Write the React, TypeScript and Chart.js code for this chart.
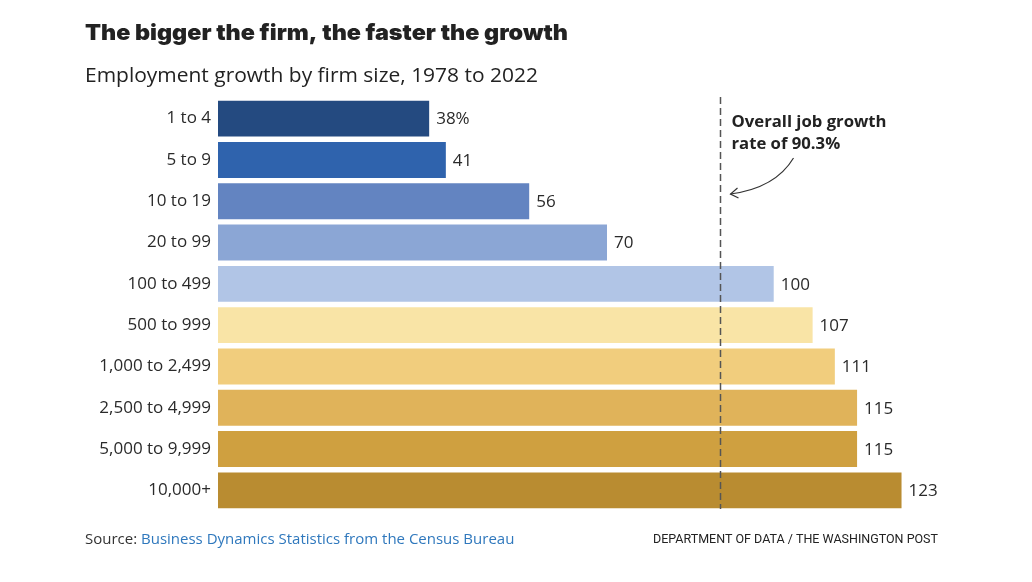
import React, { useEffect, useRef } from "react";
import { Chart, registerables } from "chart.js";

Chart.register(...registerables);

const categories = [
  "1 to 4",
  "5 to 9",
  "10 to 19",
  "20 to 99",
  "100 to 499",
  "500 to 999",
  "1,000 to 2,499",
  "2,500 to 4,999",
  "5,000 to 9,999",
  "10,000+",
];
const growth = [38, 41, 56, 70, 100, 107, 111, 115, 115, 123];
const barColors = [
  "#244a80",
  "#2f63ad",
  "#6384c1",
  "#8ba6d5",
  "#b1c5e6",
  "#f9e4a6",
  "#f1cd7d",
  "#e0b35a",
  "#cfa040",
  "#b98c31",
];
const overallRate = 90.3;
const titleText = "The bigger the firm, the faster the growth";
const subtitleText = "Employment growth by firm size, 1978 to 2022";
const noteLines = ["Overall job growth", "rate of 90.3%"];
const sourceLabel = "Source: ";
const sourceLink = "Business Dynamics Statistics from the Census Bureau";
const creditText = "DEPARTMENT OF DATA / THE WASHINGTON POST";

const FONT = "'Open Sans', Roboto, sans-serif";
const ROBOTO = "Roboto, sans-serif";

function fitText(ctx: any, text: string, x: number, y: number, width: number) {
  const w = ctx.measureText(text).width;
  ctx.save();
  ctx.translate(x, y);
  ctx.scale(width / w, 1);
  ctx.fillText(text, 0, 0);
  ctx.restore();
}

export default function App() {
  const ref = useRef<HTMLCanvasElement | null>(null);

  useEffect(() => {
    if (!ref.current) return;
    document.body.style.margin = "0";

    const extras = {
      id: "extras",
      afterDatasetsDraw(chart: any) {
        const ctx = chart.ctx;
        const xs = chart.scales.x;
        const meta = chart.getDatasetMeta(0);
        ctx.save();
        ctx.font = `17px ${FONT}`;
        ctx.fillStyle = "#2a2a2a";
        ctx.textBaseline = "middle";
        ctx.textAlign = "left";
        meta.data.forEach((bar: any, i: number) => {
          const label = i === 0 ? `${growth[i]}%` : `${growth[i]}`;
          ctx.fillText(label, bar.x + 7, bar.y + 1);
        });
        const lx = Math.round(xs.getPixelForValue(overallRate)) + 0.5;
        ctx.strokeStyle = "#555555";
        ctx.lineWidth = 1.5;
        ctx.setLineDash([7, 4]);
        ctx.beginPath();
        ctx.moveTo(lx, chart.chartArea.top - 1);
        ctx.lineTo(lx, chart.chartArea.bottom - 2);
        ctx.stroke();
        ctx.setLineDash([]);
        ctx.font = `bold 16px ${FONT}`;
        ctx.fillStyle = "#222222";
        ctx.textBaseline = "alphabetic";
        fitText(ctx, noteLines[0], lx + 11, 127, 155);
        const w2 = ctx.measureText(noteLines[1]).width * (155 / ctx.measureText(noteLines[0]).width);
        fitText(ctx, noteLines[1], lx + 11, 149, w2);
        const ax = lx + 10;
        const ay = 194;
        ctx.strokeStyle = "#333333";
        ctx.lineWidth = 1.2;
        ctx.beginPath();
        ctx.moveTo(lx + 73, 158);
        ctx.quadraticCurveTo(lx + 55, 188, ax, ay);
        ctx.stroke();
        ctx.beginPath();
        ctx.moveTo(ax + 7, ay - 6);
        ctx.lineTo(ax, ay);
        ctx.lineTo(ax + 8, ay + 4);
        ctx.stroke();
        ctx.restore();
      },
      afterDraw(chart: any) {
        const ctx = chart.ctx;
        ctx.save();
        ctx.textAlign = "left";
        ctx.textBaseline = "alphabetic";
        ctx.fillStyle = "#222222";
        ctx.font = `900 22px Inter, ${ROBOTO}`;
        fitText(ctx, titleText, 85, 40, 483);
        ctx.font = `20px ${FONT}`;
        fitText(ctx, subtitleText, 85, 82, 453);
        ctx.font = `15px ${FONT}`;
        ctx.fillStyle = "#333333";
        ctx.fillText(sourceLabel, 85, 544);
        const w = ctx.measureText(sourceLabel).width;
        ctx.fillStyle = "#2f78bd";
        ctx.fillText(sourceLink, 85 + w, 544);
        ctx.fillStyle = "#222222";
        ctx.font = `12.5px ${ROBOTO}`;
        ctx.textAlign = "right";
        ctx.fillText(creditText, 938, 543);
        ctx.restore();
      },
    };

    const chart = new Chart(ref.current, {
      type: "bar",
      data: {
        labels: categories,
        datasets: [
          {
            data: growth,
            backgroundColor: barColors,
            borderWidth: 0,
            barPercentage: 0.87,
            categoryPercentage: 1,
          },
        ],
      },
      options: {
        indexAxis: "y",
        animation: false,
        responsive: false,
        maintainAspectRatio: false,
        layout: { padding: { top: 98, bottom: 71, left: 0, right: 36 } },
        plugins: {
          legend: { display: false },
          tooltip: { enabled: false },
          title: { display: false },
        },
        scales: {
          x: {
            min: 0,
            max: 140,
            display: false,
            grid: { display: false },
          },
          y: {
            grid: { display: false, drawTicks: false },
            border: { display: false },
            ticks: {
              color: "#2a2a2a",
              font: { family: FONT, size: 17 },
              padding: 7,
            },
            afterFit(scale: any) {
              scale.width = 218;
            },
          },
        },
      },
      plugins: [extras],
    });
    return () => chart.destroy();
  }, []);

  return (
    <div style={{ position: "fixed", left: 0, top: 0, width: 1032, height: 582, background: "#fff" }}>
      <canvas ref={ref} width={1032} height={582} style={{ width: 1032, height: 582 }} />
    </div>
  );
}
